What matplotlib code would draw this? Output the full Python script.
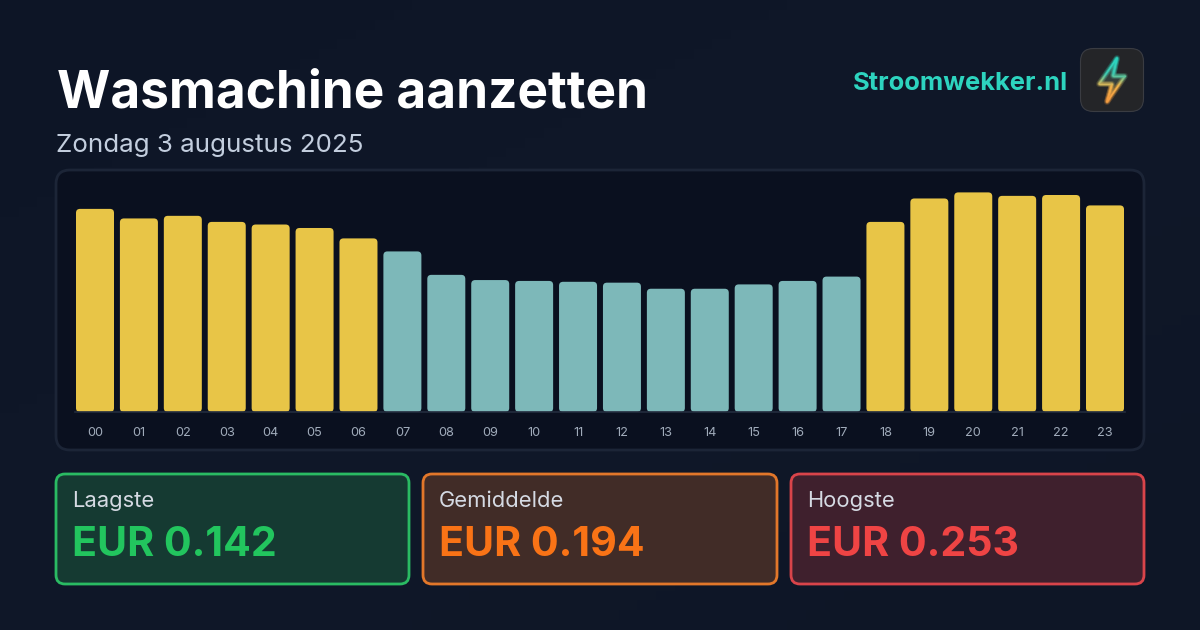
import numpy as np
import matplotlib
matplotlib.use("Agg")
import matplotlib.pyplot as plt
from matplotlib.patches import FancyBboxPatch, Polygon
from matplotlib.collections import LineCollection
from matplotlib.colors import LinearSegmentedColormap

plt.rcParams['font.family'] = ['Inter', 'DejaVu Sans']

# Hourly electricity price in EUR/kWh
hours = [f"{h:02d}" for h in range(24)]
prices = [0.234, 0.223, 0.226, 0.219, 0.216, 0.212, 0.200, 0.185, 0.158, 0.152, 0.151, 0.150,
          0.149, 0.142, 0.142, 0.147, 0.151, 0.156, 0.219, 0.246, 0.253, 0.249, 0.250, 0.238]
cheap_hours = [7, 8, 9, 10, 11, 12, 13, 14, 15, 16, 17]

title = "Wasmachine aanzetten"
subtitle = "Zondag 3 augustus 2025"
brand = "Stroomwekker.nl"
card_labels = ["Laagste", "Gemiddelde", "Hoogste"]
card_values = ["EUR 0.142", "EUR 0.194", "EUR 0.253"]

W, H = 1200, 630
fig = plt.figure(figsize=(W / 100, H / 100), dpi=100)

# Full-figure canvas measured in pixels for the page furniture
page = fig.add_axes([0, 0, 1, 1])
page.set_xlim(0, W)
page.set_ylim(H, 0)
page.axis("off")

# Soft diagonal page background
bg_cmap = LinearSegmentedColormap.from_list("bg", ["#0d1526", "#101829", "#0e1626"])
yy, xx = np.mgrid[0:1:64j, 0:1:64j]
page.imshow((xx + yy) / 2, cmap=bg_cmap, extent=[0, W, H, 0], aspect="auto", zorder=0)
page.set_xlim(0, W)
page.set_ylim(H, 0)


def rounded(x0, y0, x1, y1, r, face, edge, lw=2.0, z=1):
    patch = FancyBboxPatch((x0 + r, y0 + r), x1 - x0 - 2 * r, y1 - y0 - 2 * r,
                           boxstyle=f"round,pad={r},rounding_size={r}",
                           facecolor=face, edgecolor=edge, linewidth=lw, zorder=z)
    page.add_patch(patch)


page.text(57, 108, title, color="#ffffff", fontsize=37.0, fontweight="bold", va="baseline", zorder=3)
page.text(56.5, 152, subtitle, color="#c3cede", fontsize=18.7, va="baseline", zorder=3)
page.text(1068, 90, brand, color="#2dd4bf", fontsize=18.4, fontweight="bold", ha="right", va="baseline", zorder=3)

# App icon with a neon lightning bolt
rounded(1080.5, 48.5, 1143.5, 111.5, 13, "#242528", "#3a3c42", lw=0.8, z=2)
bolt = np.array([(1117, 58), (1099, 84), (1112, 84), (1107, 102), (1125, 76), (1113, 76), (1117, 58)], float)
page.add_patch(Polygon(bolt[:-1], closed=True, facecolor="#6a8f78", alpha=0.25, edgecolor="none", zorder=4))
bolt_cmap = LinearSegmentedColormap.from_list("bolt", ["#2dd4bf", "#3fc9b0", "#f0b24a", "#f59e42"])
pts = np.vstack([np.linspace(bolt[i], bolt[i + 1], 30) for i in range(len(bolt) - 1)])
segs = np.stack([pts[:-1], pts[1:]], axis=1)
shade = np.clip((segs[:, 0, 1] - 62) / 36, 0, 1)
for width, alpha in [(4.5, 0.07), (2.6, 0.18), (1.0, 1.0)]:
    lc = LineCollection(segs, cmap=bolt_cmap, linewidths=width, alpha=alpha, zorder=4, capstyle="round")
    lc.set_array(shade)
    page.add_collection(lc)

# Chart panel
rounded(56, 170, 1144, 450, 14, "#0a101f", "#1c2537", lw=2.0)

# Bar chart axes: one hour is 43.91 px, one euro is 868 px
px_per_hour = 1010 / 23
px_per_eur = 868
left_px, right_px, top_px, base_px = 70, 1130, 180, 412
bars = fig.add_axes([left_px / W, 1 - base_px / H, (right_px - left_px) / W, (base_px - top_px) / H])
bars.patch.set_alpha(0)
bars.set_xlim(-(95 - left_px) / px_per_hour, (right_px - 95) / px_per_hour)
bars.set_ylim(0, (base_px - top_px) / px_per_eur)
bar_w = 38 / px_per_hour
r_x = 4 / px_per_hour
aspect = (1 / px_per_eur) / (1 / px_per_hour)
for i, p in enumerate(prices):
    color = "#7db8b9" if i in cheap_hours else "#e8c547"
    bars.add_patch(FancyBboxPatch((i - bar_w / 2 + r_x, r_x * aspect), bar_w - 2 * r_x, p - 2 * r_x * aspect,
                                  boxstyle=f"round,pad={r_x},rounding_size={r_x}",
                                  mutation_aspect=aspect, facecolor=color, edgecolor="none"))
bars.axhline(0, color="#232c3e", lw=1.2, xmin=0.005, xmax=0.995, clip_on=False)
bars.set_xticks(range(24), hours)
bars.set_yticks([])
bars.tick_params(axis="x", length=0, pad=11, labelsize=9.2, labelcolor="#a0abba")
for s in bars.spines.values():
    s.set_visible(False)

# Summary cards
card_x = [(56, 409), (423, 777), (791, 1144)]
card_face = ["#153a32", "#412c27", "#3f202d"]
card_edge = ["#2abb63", "#e2772a", "#d9444a"]
card_text = ["#22c55e", "#f97316", "#ef4444"]
for (x0, x1), label, val, fc, ec, tc in zip(card_x, card_labels, card_values, card_face, card_edge, card_text):
    rounded(x0, 474, x1, 584, 9, fc, ec, lw=2.0)
    page.text(x0 + 16, 507, label, color="#d5dae3", fontsize=15.8, va="baseline", zorder=3)
    page.text(x0 + 16, 556, val, color=tc, fontsize=29.6, fontweight="bold", va="baseline", zorder=3)

fig.savefig("out.png", dpi=100)
